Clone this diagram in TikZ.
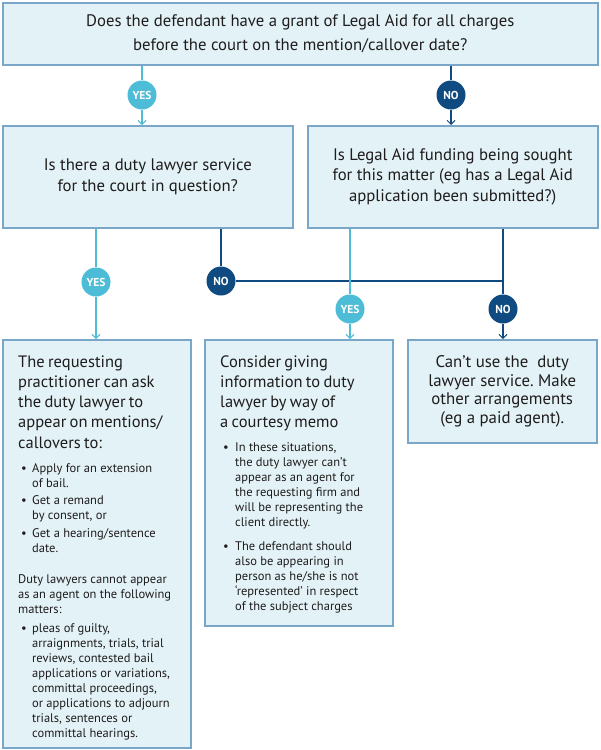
\documentclass[tikz,border=0pt]{standalone}
\usepackage{fontspec}
\setmainfont{PT Sans}
\usetikzlibrary{arrows.meta,calc}
\definecolor{boxfill}{RGB}{227,242,247}
\definecolor{boxline}{RGB}{122,167,200}
\definecolor{yescol}{RGB}{77,188,214}
\definecolor{nocol}{RGB}{15,75,128}
\definecolor{txt}{RGB}{30,28,28}
\newcommand\nl{\hfil\break}
\newcommand\bul[2][14pt]{\par\hangindent=#1\hangafter=1\noindent\makebox[#1][l]{\hspace{3pt}\textbullet}#2\par}
\frenchspacing
\begin{document}
\begin{tikzpicture}[x=1pt,y=-1pt,
  box/.style={draw=boxline, fill=boxfill, line width=1.5pt, inner sep=0pt, anchor=north west},
  qtext/.style={align=center, text=txt, font=\fontsize{16.7}{20.5}\selectfont, inner sep=0pt},
  bodytext/.style={anchor=base west, text=txt, inner sep=0pt, text width=172pt},
  yesdot/.style={circle, fill=yescol, text=white, font=\bfseries\fontsize{11.5}{12}\selectfont, minimum size=29pt, inner sep=0pt},
  nodot/.style={yesdot, fill=nocol},
  yesline/.style={draw=yescol, line width=1.2pt},
  noline/.style={draw=nocol, line width=1.2pt},
  tip/.style={-{Straight Barb[length=4pt,width=8pt,line width=1pt]}}]
\useasboundingbox (0,0) rectangle (601,750);
\fill[white] (0,0) rectangle (601,750);

% boxes
\node[box, minimum width=595pt, minimum height=62pt] (q1) at (2,2) {};
\node[box, minimum width=290pt, minimum height=102pt] (q2) at (2,125) {};
\node[box, minimum width=290pt, minimum height=102pt] (q3) at (307,125) {};
\node[box, minimum width=188pt, minimum height=408pt] (r1) at (2,339) {};
\node[box, minimum width=188pt, minimum height=286pt] (r2) at (204,339) {};
\node[box, minimum width=189pt, minimum height=103pt] (r3) at (407,339) {};

% question texts
\node[qtext, font=\fontsize{16.7}{24}\selectfont] (q1t) at (q1.center) {Does the defendant have a grant of Legal Aid for all charges\\before the court on the mention/callover date?};
\node[qtext] (q2t) at (q2.center) {Is there a duty lawyer service\\for the court in question?};
\node[qtext] (q3t) at (q3.center) {Is Legal Aid funding being sought\\for this matter (eg has a Legal Aid\\application been submitted?)};
\node[qtext, font=\fontsize{16.8}{18.5}\selectfont] (r3t) at (r3.center) {Can’t use the~ duty\\lawyer service. Make\\other arrangements\\(eg a paid agent).};

% left result
\node[bodytext] (r1t) at (18,367) {\setlength\parskip{0pt}%
{\fontsize{16.5}{20.3}\selectfont\noindent The requesting\nl practitioner can ask\nl the duty lawyer to\nl appear on mentions/\nl callovers to:\par}%
\fontsize{12.5}{15}\selectfont
\vspace{9pt}%
\bul{Apply for an extension\nl of bail.}%
\vspace{2.5pt}%
\bul{Get a remand\nl by consent, or}%
\vspace{2.5pt}%
\bul{Get a hearing/sentence\nl date.}%
\vspace{16pt}%
\noindent Duty lawyers cannot appear\nl as an agent on the following\nl matters:\par
\vspace{4pt}%
\bul{pleas of guilty,\nl arraignments, trials, trial\nl reviews, contested bail\nl applications or variations,\nl committal proceedings,\nl or applications to adjourn\nl trials, sentences or\nl committal hearings.}};

% middle result
\node[bodytext] (r2t) at (220,367) {\setlength\parskip{0pt}%
{\fontsize{16.5}{20.3}\selectfont\noindent Consider giving\nl information to duty\nl lawyer by way of\nl a courtesy memo\par}%
\fontsize{12.5}{15}\selectfont
\vspace{9pt}%
\bul[15pt]{In these situations,\nl the duty lawyer can’t\nl appear as an agent for\nl the requesting firm and\nl will be representing the\nl client directly.}%
\vspace{9pt}%
\bul[15pt]{The defendant should\nl also be appearing in\nl person as he/she is not\nl ‘represented’ in respect\nl of the subject charges}};

% decision dots
\node[yesdot] (c1) at (142,95) {YES};
\node[nodot] (c2) at (451,95) {NO};
\node[yesdot] (c3) at (96,282) {YES};
\node[nodot] (c4) at (221,281) {NO};
\node[yesdot] (c5) at (350,309) {YES};
\node[nodot] (c6) at (503,309) {NO};

% connectors
\draw[yesline] (c1 |- q1.south) -- (c1.north);
\draw[yesline,tip] (c1.south) -- (c1 |- q2.north);
\draw[noline] (c2 |- q1.south) -- (c2.north);
\draw[noline,tip] (c2.south) -- (c2 |- q3.north);
\draw[yesline] (c3 |- q2.south) -- (c3.north);
\draw[yesline,tip] (c3.south) -- (c3 |- r1.north);
\draw[noline] (c4 |- q2.south) -- (c4.north);
\draw[noline] (c4.east) -- (c4.east -| c6);
\draw[noline] (c6 |- q3.south) -- (c6.north);
\draw[noline,tip] (c6.south) -- (c6 |- r3.north);
\draw[yesline] (c5 |- q3.south) -- (c5.north);
\draw[yesline,tip] (c5.south) -- (c5 |- r2.north);
\end{tikzpicture}
\end{document}
